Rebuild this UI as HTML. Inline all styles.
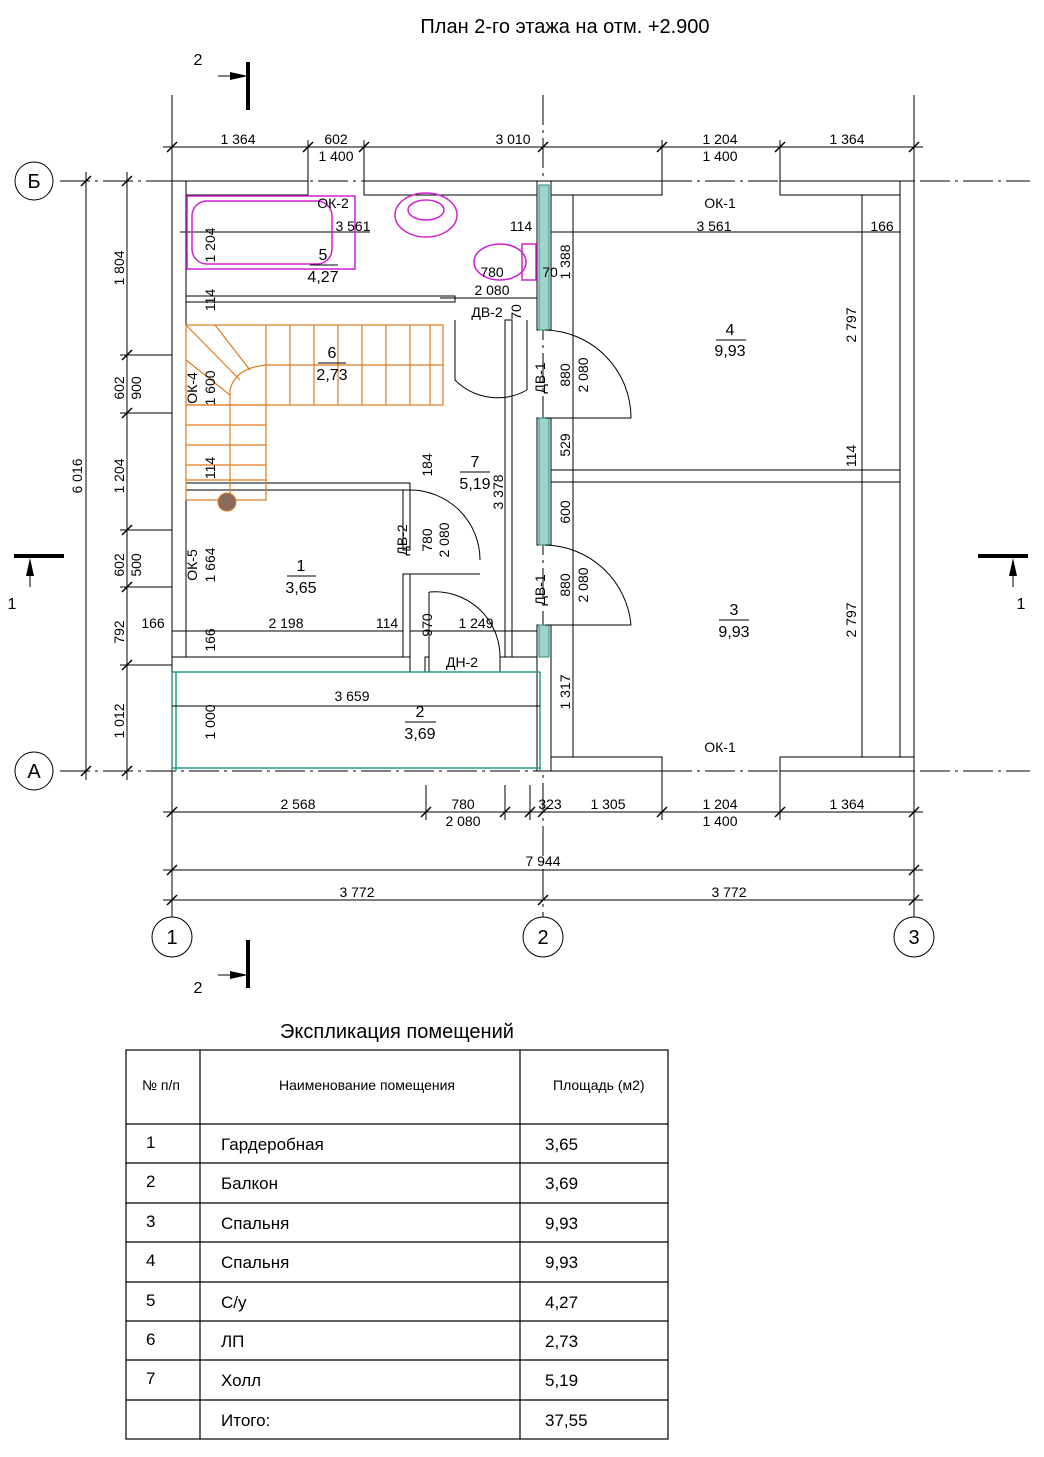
<!DOCTYPE html>
<html><head><meta charset="utf-8"><style>
html,body{margin:0;padding:0;background:#fff}
svg{display:block}
text{font-family:"Liberation Sans Narrow","Liberation Sans",sans-serif;fill:#000}
</style></head><body>
<svg width="1044" height="1457" viewBox="0 0 1044 1457" xmlns="http://www.w3.org/2000/svg">
<g stroke="#000" stroke-width="1" fill="none">
<!-- axes -->
<line x1="60" y1="181" x2="1030" y2="181" stroke-dasharray="30,5,3,5"/>
<line x1="60" y1="771" x2="1030" y2="771" stroke-dasharray="30,5,3,5"/>
<line x1="172" y1="95" x2="172" y2="917"/>
<line x1="543" y1="95" x2="543" y2="917" stroke-dasharray="30,5,3,5"/>
<line x1="914" y1="95" x2="914" y2="917"/>
<circle cx="34" cy="181" r="19"/><circle cx="34" cy="771" r="19"/>
<circle cx="172" cy="937" r="20"/><circle cx="543" cy="937" r="20"/><circle cx="914" cy="937" r="20"/>
<!-- top dims -->
<line x1="163" y1="147" x2="923" y2="147"/>
<line x1="308" y1="140" x2="308" y2="181"/><line x1="364" y1="140" x2="364" y2="181"/>
<line x1="662" y1="140" x2="662" y2="181"/><line x1="780" y1="140" x2="780" y2="181"/>
<g stroke-width="1.5"><line x1="167" y1="152" x2="177" y2="142"/><line x1="303" y1="152" x2="313" y2="142"/><line x1="359" y1="152" x2="369" y2="142"/><line x1="538" y1="152" x2="548" y2="142"/><line x1="657" y1="152" x2="667" y2="142"/><line x1="775" y1="152" x2="785" y2="142"/><line x1="909" y1="152" x2="919" y2="142"/></g>
<!-- bottom dims -->
<line x1="163" y1="812" x2="923" y2="812"/>
<line x1="426" y1="785" x2="426" y2="820"/><line x1="505" y1="785" x2="505" y2="820"/><line x1="530" y1="785" x2="530" y2="820"/>
<line x1="662" y1="771" x2="662" y2="820"/><line x1="780" y1="771" x2="780" y2="820"/>
<g stroke-width="1.5"><line x1="167" y1="817" x2="177" y2="807"/><line x1="421" y1="817" x2="431" y2="807"/><line x1="500" y1="817" x2="510" y2="807"/><line x1="525" y1="817" x2="535" y2="807"/><line x1="538" y1="817" x2="548" y2="807"/><line x1="657" y1="817" x2="667" y2="807"/><line x1="775" y1="817" x2="785" y2="807"/><line x1="909" y1="817" x2="919" y2="807"/>
<line x1="167" y1="875" x2="177" y2="865"/><line x1="909" y1="875" x2="919" y2="865"/>
<line x1="167" y1="905" x2="177" y2="895"/><line x1="538" y1="905" x2="548" y2="895"/><line x1="909" y1="905" x2="919" y2="895"/></g>
<line x1="163" y1="870" x2="923" y2="870"/><line x1="163" y1="900" x2="923" y2="900"/>
<!-- left dims -->
<line x1="86" y1="172" x2="86" y2="780"/><line x1="127" y1="172" x2="127" y2="780"/>
<g stroke-width="1.5"><line x1="81" y1="186" x2="91" y2="176"/><line x1="81" y1="776" x2="91" y2="766"/>
<line x1="122" y1="186" x2="132" y2="176"/><line x1="122" y1="360" x2="132" y2="350"/><line x1="122" y1="418" x2="132" y2="408"/><line x1="122" y1="535" x2="132" y2="525"/><line x1="122" y1="592" x2="132" y2="582"/><line x1="122" y1="670" x2="132" y2="660"/><line x1="122" y1="776" x2="132" y2="766"/></g>
<line x1="120" y1="355" x2="172" y2="355"/><line x1="120" y1="413" x2="172" y2="413"/><line x1="120" y1="530" x2="172" y2="530"/><line x1="120" y1="587" x2="172" y2="587"/><line x1="120" y1="665" x2="172" y2="665"/>
<!-- section marks -->
<line x1="218" y1="76" x2="248" y2="76"/><line x1="218" y1="975" x2="248" y2="975"/>
<line x1="30" y1="587" x2="30" y2="560"/><line x1="1013" y1="587" x2="1013" y2="560"/>
</g>
<g fill="#000">
<rect x="246" y="62" width="4" height="48"/><rect x="246" y="940" width="4" height="48"/>
<polygon points="248,76 230,72 230,80"/><polygon points="248,975 230,971 230,979"/>
<rect x="14" y="554" width="50" height="4"/><rect x="978" y="554" width="50" height="4"/>
<polygon points="30,558 26,576 34,576"/><polygon points="1013,558 1009,576 1017,576"/>
</g>
<!-- walls -->
<g stroke="#000" stroke-width="1" fill="#fff">
<rect x="172" y="181" width="136" height="14"/><rect x="364" y="181" width="298" height="14"/><rect x="780" y="181" width="134" height="14"/>
<rect x="172" y="181" width="14" height="491"/><rect x="900" y="181" width="14" height="590"/>
<rect x="543" y="757" width="119" height="14"/><rect x="780" y="757" width="134" height="14"/>
<rect x="172" y="657" width="238" height="15"/><rect x="425" y="657" width="4" height="15"/><rect x="500" y="657" width="40" height="15"/>
<rect x="537" y="181" width="14" height="149"/><rect x="537" y="418" width="14" height="127"/><rect x="537" y="625" width="14" height="146"/>
<rect x="551" y="470" width="349" height="12"/>
<rect x="186" y="296" width="269" height="6"/>
<rect x="186" y="483" width="224" height="7"/>
<rect x="403" y="490" width="7" height="60"/><rect x="403" y="574" width="7" height="83"/>
<rect x="505" y="320" width="7" height="337"/>
</g>
<g fill="#9fd4c8" stroke="#2a8a80"><rect x="539" y="185" width="10" height="145"/><rect x="539" y="418" width="10" height="127"/><rect x="539" y="625" width="10" height="32"/></g>
<g stroke="#2a9a88" stroke-width="1.5" fill="none"><line x1="172" y1="672" x2="172" y2="771"/><line x1="176" y1="672" x2="176" y2="771"/><line x1="172" y1="768" x2="540" y2="768"/><line x1="172" y1="672" x2="540" y2="672"/><line x1="540" y1="672" x2="540" y2="771"/></g>
<!-- doors -->
<g stroke="#000" fill="none">
<path d="M455 320 L455 380 A60 60 0 0 0 527 390 L527 390"/><line x1="527" y1="320" x2="527" y2="390"/>
<path d="M545 330 A88 88 0 0 1 631 418"/><line x1="545" y1="418" x2="631" y2="418"/>
<path d="M545 545 A88 88 0 0 1 631 625"/><line x1="545" y1="625" x2="631" y2="625"/>
<path d="M410 490 A70 70 0 0 1 480 560"/><line x1="410" y1="574" x2="480" y2="574"/>
<path d="M429 592 A65 65 0 0 1 500 657"/><line x1="429" y1="592" x2="429" y2="657"/>
<line x1="573" y1="195" x2="573" y2="757"/><line x1="862" y1="195" x2="862" y2="757"/>
<line x1="551" y1="232" x2="900" y2="232"/><line x1="180" y1="232" x2="370" y2="232"/>
<line x1="172" y1="631" x2="403" y2="631"/><line x1="410" y1="631" x2="537" y2="631"/>
<line x1="172" y1="706" x2="540" y2="706"/>
<line x1="512" y1="298" x2="537" y2="298"/><line x1="440" y1="298" x2="537" y2="298"/>
</g>
<!-- magenta fixtures -->
<g stroke="#d020d0" stroke-width="1.5" fill="none">
<rect x="187" y="196" width="168" height="73"/><rect x="192" y="201" width="140" height="63" rx="15"/>
<ellipse cx="426" cy="215" rx="31" ry="22"/><ellipse cx="426" cy="210" rx="18" ry="10"/>
<ellipse cx="500" cy="262" rx="26" ry="18"/><rect x="522" y="244" width="14" height="36"/>
</g>
<!-- stairs -->
<g stroke="#e07a20" stroke-width="1.2" fill="none">
<rect x="186" y="325" width="257" height="80"/>
<line x1="266" y1="365" x2="443" y2="365"/>
<line x1="266" y1="325" x2="266" y2="405"/><line x1="290" y1="325" x2="290" y2="405"/><line x1="314" y1="325" x2="314" y2="405"/><line x1="338" y1="325" x2="338" y2="405"/><line x1="362" y1="325" x2="362" y2="405"/><line x1="386" y1="325" x2="386" y2="405"/><line x1="410" y1="325" x2="410" y2="405"/><line x1="430" y1="325" x2="430" y2="405"/>
<rect x="186" y="405" width="80" height="95"/>
<line x1="186" y1="325" x2="240" y2="380"/><line x1="215" y1="325" x2="250" y2="370"/><line x1="186" y1="360" x2="230" y2="395"/><line x1="186" y1="425" x2="266" y2="425"/><line x1="186" y1="445" x2="266" y2="445"/><line x1="186" y1="465" x2="266" y2="465"/><line x1="186" y1="480" x2="266" y2="480"/>
<path d="M230 500 L230 390 Q235 368 266 365"/>
</g>
<circle cx="227" cy="502" r="9" fill="#8a6a5a" stroke="#e07a20"/>
<!-- room labels underline -->
<g stroke="#000"><line x1="310" y1="265" x2="338" y2="265"/><line x1="318" y1="363" x2="346" y2="363"/><line x1="460" y1="472" x2="490" y2="472"/><line x1="287" y1="576" x2="316" y2="576"/><line x1="405" y1="722" x2="436" y2="722"/><line x1="716" y1="340" x2="746" y2="340"/><line x1="719" y1="620" x2="749" y2="620"/></g>
<g font-size="20" text-anchor="middle">
<text x="565" y="33">План 2-го этажа на отм. +2.900</text>
<text x="34" y="188">Б</text><text x="34" y="778">А</text>
<text x="172" y="944">1</text><text x="543" y="944">2</text><text x="914" y="944">3</text>
<text x="397" y="1038">Экспликация помещений</text>
</g>
<g font-size="16" text-anchor="middle">
<text x="198" y="65">2</text><text x="198" y="993">2</text><text x="12" y="609">1</text><text x="1021" y="609">1</text>
<text x="323" y="260">5</text><text x="323" y="282">4,27</text>
<text x="332" y="358">6</text><text x="332" y="380">2,73</text>
<text x="475" y="467">7</text><text x="475" y="489">5,19</text>
<text x="301" y="571">1</text><text x="301" y="593">3,65</text>
<text x="420" y="717">2</text><text x="420" y="739">3,69</text>
<text x="730" y="335">4</text><text x="730" y="356">9,93</text>
<text x="734" y="615">3</text><text x="734" y="637">9,93</text>
</g>
<g font-size="14" text-anchor="middle">
<text x="238" y="144">1 364</text><text x="336" y="144">602</text><text x="336" y="161">1 400</text><text x="513" y="144">3 010</text><text x="720" y="144">1 204</text><text x="720" y="161">1 400</text><text x="847" y="144">1 364</text>
<text x="298" y="809">2 568</text><text x="463" y="809">780</text><text x="463" y="826">2 080</text><text x="550" y="809">323</text><text x="608" y="809">1 305</text><text x="720" y="809">1 204</text><text x="720" y="826">1 400</text><text x="847" y="809">1 364</text>
<text x="543" y="866">7 944</text><text x="357" y="897">3 772</text><text x="729" y="897">3 772</text>
<text x="333" y="208">ОК-2</text><text x="353" y="231">3 561</text><text x="720" y="208">ОК-1</text><text x="714" y="231">3 561</text><text x="882" y="231">166</text>
<text x="521" y="231">114</text><text x="492" y="277">780</text><text x="492" y="295">2 080</text><text x="550" y="277">70</text><text x="487" y="317">ДВ-2</text>
<text x="153" y="628">166</text><text x="286" y="628">2 198</text><text x="387" y="628">114</text><text x="476" y="628">1 249</text><text x="462" y="667">ДН-2</text>
<text x="352" y="701">3 659</text><text x="720" y="752">ОК-1</text>
</g>
<g font-size="14" text-anchor="middle">
<text transform="translate(82,476) rotate(-90)">6 016</text>
<text transform="translate(124,268) rotate(-90)">1 804</text>
<text transform="translate(124,388) rotate(-90)">602</text><text transform="translate(141,388) rotate(-90)">900</text>
<text transform="translate(124,476) rotate(-90)">1 204</text>
<text transform="translate(124,565) rotate(-90)">602</text><text transform="translate(141,565) rotate(-90)">500</text>
<text transform="translate(124,632) rotate(-90)">792</text><text transform="translate(124,721) rotate(-90)">1 012</text>
<text transform="translate(215,722) rotate(-90)">1 000</text><text transform="translate(215,640) rotate(-90)">166</text>
<text transform="translate(197,565) rotate(-90)">ОК-5</text><text transform="translate(215,565) rotate(-90)">1 664</text>
<text transform="translate(197,388) rotate(-90)">ОК-4</text><text transform="translate(215,388) rotate(-90)">1 600</text>
<text transform="translate(215,300) rotate(-90)">114</text><text transform="translate(215,468) rotate(-90)">114</text><text transform="translate(215,245) rotate(-90)">1 204</text>
<text transform="translate(432,465) rotate(-90)">184</text><text transform="translate(503,492) rotate(-90)">3 378</text>
<text transform="translate(407,540) rotate(-90)">ДВ-2</text><text transform="translate(432,540) rotate(-90)">780</text><text transform="translate(449,540) rotate(-90)">2 080</text>
<text transform="translate(432,625) rotate(-90)">970</text>
<text transform="translate(521,312) rotate(-90)">70</text>
<text transform="translate(570,262) rotate(-90)">1 388</text>
<text transform="translate(545,378) rotate(-90)">ДВ-1</text><text transform="translate(570,375) rotate(-90)">880</text><text transform="translate(588,375) rotate(-90)">2 080</text>
<text transform="translate(570,445) rotate(-90)">529</text><text transform="translate(570,512) rotate(-90)">600</text>
<text transform="translate(545,590) rotate(-90)">ДВ-1</text><text transform="translate(570,585) rotate(-90)">880</text><text transform="translate(588,585) rotate(-90)">2 080</text>
<text transform="translate(570,692) rotate(-90)">1 317</text>
<text transform="translate(856,325) rotate(-90)">2 797</text><text transform="translate(856,620) rotate(-90)">2 797</text><text transform="translate(856,456) rotate(-90)">114</text>
</g>
<!-- table -->
<g stroke="#000" stroke-width="1.2" fill="none">
<rect x="126" y="1050" width="542" height="389"/>
<line x1="200" y1="1050" x2="200" y2="1439"/><line x1="520" y1="1050" x2="520" y2="1439"/>
<line x1="126" y1="1124" x2="668" y2="1124"/><line x1="126" y1="1163" x2="668" y2="1163"/><line x1="126" y1="1203" x2="668" y2="1203"/><line x1="126" y1="1242" x2="668" y2="1242"/><line x1="126" y1="1282" x2="668" y2="1282"/><line x1="126" y1="1321" x2="668" y2="1321"/><line x1="126" y1="1360" x2="668" y2="1360"/><line x1="126" y1="1400" x2="668" y2="1400"/>
</g>
<g font-size="14"><text x="142" y="1090">№ п/п</text><text x="279" y="1090">Наименование помещения</text><text x="553" y="1090">Площадь (м2)</text></g>
<g font-size="17">
<text x="146" y="1148">1</text><text x="221" y="1150">Гардеробная</text><text x="545" y="1150">3,65</text>
<text x="146" y="1187">2</text><text x="221" y="1189">Балкон</text><text x="545" y="1189">3,69</text>
<text x="146" y="1227">3</text><text x="221" y="1229">Спальня</text><text x="545" y="1229">9,93</text>
<text x="146" y="1266">4</text><text x="221" y="1268">Спальня</text><text x="545" y="1268">9,93</text>
<text x="146" y="1306">5</text><text x="221" y="1308">С/у</text><text x="545" y="1308">4,27</text>
<text x="146" y="1345">6</text><text x="221" y="1347">ЛП</text><text x="545" y="1347">2,73</text>
<text x="146" y="1384">7</text><text x="221" y="1386">Холл</text><text x="545" y="1386">5,19</text>
<text x="221" y="1426">Итого:</text><text x="545" y="1426">37,55</text>
</g>
</svg>
</body></html>
